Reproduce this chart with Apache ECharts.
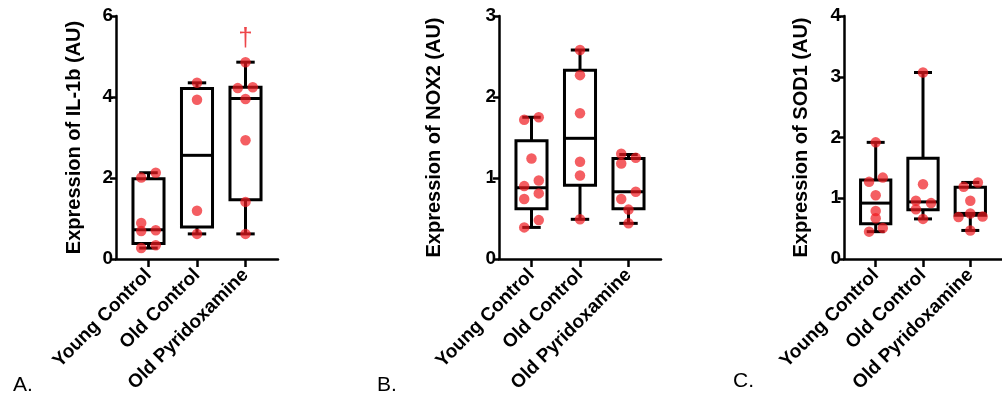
<!DOCTYPE html>
<html>
<head>
<meta charset="utf-8">
<script src="https://cdn.jsdelivr.net/npm/echarts@6/dist/echarts.min.js"></script>
<style>
  html, body { margin: 0; padding: 0; background: #fff; }
  #chart { width: 1002px; height: 398px; }
</style>
</head>
<body>
<div id="chart"></div>
<script>
// groups on the x axis (placed at 1, 2, 3)
const groups = ['Young Control', 'Old Control', 'Old Pyridoxamine'];

// box stats per group: [min, Q1, median, Q3, max]
const il1bBoxes = [[0.27, 0.38, 0.72, 1.98, 2.13], [0.62, 0.79, 2.56, 4.21, 4.35], [0.62, 1.46, 3.96, 4.24, 4.86]];
const nox2Boxes = [[0.39, 0.62, 0.88, 1.46, 1.75], [0.49, 0.91, 1.49, 2.33, 2.58], [0.44, 0.62, 0.83, 1.24, 1.29]];
const sod1Boxes = [[0.45, 0.58, 0.92, 1.30, 1.92], [0.66, 0.81, 0.94, 1.66, 3.07], [0.47, 0.72, 0.75, 1.18, 1.26]];

// individual points per group
const il1bPoints = [[2.01, 2.13, 0.89, 0.69, 0.71, 0.34, 0.27], [4.35, 3.93, 1.19, 0.62], [4.86, 4.22, 4.24, 3.95, 2.93, 1.41, 0.62]];
const nox2Points = [[1.72, 1.75, 1.24, 0.97, 0.90, 0.81, 0.74, 0.48, 0.39], [2.58, 2.27, 1.80, 1.20, 1.03, 0.49], [1.30, 1.25, 1.18, 0.83, 0.74, 0.61, 0.44]];
const sod1Points = [[1.92, 1.27, 1.34, 1.05, 0.79, 0.67, 0.51, 0.45], [3.07, 1.23, 0.96, 0.92, 0.82, 0.66], [1.19, 1.26, 0.96, 0.75, 0.69, 0.70, 0.47]];

// horizontal scatter of the points (in group units)
const il1bJitter = [[-0.15, 0.15, -0.15, -0.15, 0.15, 0.15, -0.15], [0, 0, 0, 0], [0, -0.16, 0.15, 0, 0, 0, 0]];
const nox2Jitter = [[-0.15, 0.15, 0, 0.15, -0.15, 0.15, -0.15, 0.15, -0.15], [0, 0, 0, 0, 0, 0], [-0.15, 0.15, -0.15, 0.15, -0.15, 0, 0]];
const sod1Jitter = [[0, -0.14, 0.15, 0, 0, 0, 0.15, -0.14], [0, 0, -0.15, 0.17, -0.15, 0], [-0.14, 0.16, 0, 0, -0.25, 0.26, 0]];

const yNames = ['Expression of IL-1b (AU)', 'Expression of NOX2 (AU)', 'Expression of SOD1 (AU)'];
const yMax = [6, 3, 4];
const yStep = [2, 1, 1];
const panelLetters = ['A.', 'B.', 'C.'];

// significance mark over Old Pyridoxamine in IL-1b
const daggerPoint = [3, 5.43];

const FONT = 'Liberation Sans, Arial, sans-serif';
const DOT = 'rgba(240, 26, 32, 0.88)';

const chart = echarts.init(document.getElementById('chart'), null, { renderer: 'canvas' });

const gridLefts = [116, 499, 844];
const nameGaps = [32, 55, 33];

const boxSets = [il1bBoxes, nox2Boxes, sod1Boxes];
const pointSets = [il1bPoints, nox2Points, sod1Points];
const jitterSets = [il1bJitter, nox2Jitter, sod1Jitter];

function renderBox(params, api) {
    const x = api.value(0);
    const pMin = api.coord([x, api.value(1)]);
    const pQ1 = api.coord([x, api.value(2)]);
    const pMed = api.coord([x, api.value(3)]);
    const pQ3 = api.coord([x, api.value(4)]);
    const pMax = api.coord([x, api.value(5)]);
    const half = api.size([0.32, 0])[0];
    const cap = api.size([0.19, 0])[0];
    const cx = pMed[0];
    const style = { stroke: '#000', lineWidth: 3, fill: null };
    return {
        type: 'group',
        children: [
            { type: 'line', shape: { x1: cx, y1: pQ3[1], x2: cx, y2: pMax[1] }, style },
            { type: 'line', shape: { x1: cx, y1: pQ1[1], x2: cx, y2: pMin[1] }, style },
            { type: 'line', shape: { x1: cx - cap, y1: pMax[1], x2: cx + cap, y2: pMax[1] }, style },
            { type: 'line', shape: { x1: cx - cap, y1: pMin[1], x2: cx + cap, y2: pMin[1] }, style },
            { type: 'rect', shape: { x: cx - half, y: pQ3[1], width: half * 2, height: pQ1[1] - pQ3[1] }, style },
            { type: 'line', shape: { x1: cx - half, y1: pMed[1], x2: cx + half, y2: pMed[1] }, style }
        ]
    };
}

const grids = [], xAxes = [], yAxes = [], series = [];
for (let i = 0; i < 3; i++) {
    grids.push({ left: gridLefts[i], top: 16, width: 162, height: 243 });
    xAxes.push({
        gridIndex: i,
        type: 'value',
        min: 0.33,
        max: 3.67,
        splitLine: { show: false },
        axisLine: { show: true, lineStyle: { color: '#000', width: 2.5 } },
        axisTick: { show: true, customValues: [1, 2, 3], length: 8, lineStyle: { color: '#000', width: 2.5 } },
        axisLabel: {
            show: true,
            customValues: [1, 2, 3],
            formatter: v => groups[Math.round(v) - 1] || '',
            rotate: 45,
            margin: 13,
            color: '#000',
            fontFamily: FONT,
            fontWeight: 'bold',
            fontSize: 19
        }
    });
    yAxes.push({
        gridIndex: i,
        type: 'value',
        min: 0,
        max: yMax[i],
        interval: yStep[i],
        name: yNames[i],
        nameLocation: 'middle',
        nameGap: nameGaps[i],
        nameTextStyle: { color: '#000', fontFamily: FONT, fontWeight: 'bold', fontSize: 20 },
        splitLine: { show: false },
        axisLine: { show: true, lineStyle: { color: '#000', width: 2.5 } },
        axisTick: { show: true, length: 6, lineStyle: { color: '#000', width: 2.5 } },
        axisLabel: { color: '#000', fontFamily: FONT, fontWeight: 'bold', fontSize: 19, margin: 3 }
    });
    series.push({
        type: 'custom',
        xAxisIndex: i,
        yAxisIndex: i,
        renderItem: renderBox,
        encode: { x: 0, y: [1, 2, 3, 4, 5] },
        data: boxSets[i].map((b, g) => [g + 1].concat(b)),
        z: 2
    });
    const pts = [];
    pointSets[i].forEach((vals, g) => {
        vals.forEach((v, k) => pts.push([g + 1 + jitterSets[i][g][k], v]));
    });
    series.push({
        type: 'scatter',
        xAxisIndex: i,
        yAxisIndex: i,
        symbolSize: 10.5,
        itemStyle: { color: DOT },
        data: pts,
        z: 3
    });
}

series.push({
    type: 'scatter',
    xAxisIndex: 0,
    yAxisIndex: 0,
    symbolSize: 0,
    data: [daggerPoint],
    label: {
        show: true,
        position: 'inside',
        formatter: '\u2020',
        color: '#e8161c',
        fontFamily: FONT,
        fontSize: 26
    },
    z: 4
});

const letterPos = [[13, 375], [377, 375], [733, 371]];
const graphic = panelLetters.map((t, i) => ({
    type: 'text',
    left: letterPos[i][0],
    top: letterPos[i][1],
    style: { text: t, fill: '#000', font: '21px ' + FONT }
}));

chart.setOption({
    animation: false,
    grid: grids,
    xAxis: xAxes,
    yAxis: yAxes,
    series,
    graphic
});
window.addEventListener('resize', chart.resize);
</script>
</body>
</html>
